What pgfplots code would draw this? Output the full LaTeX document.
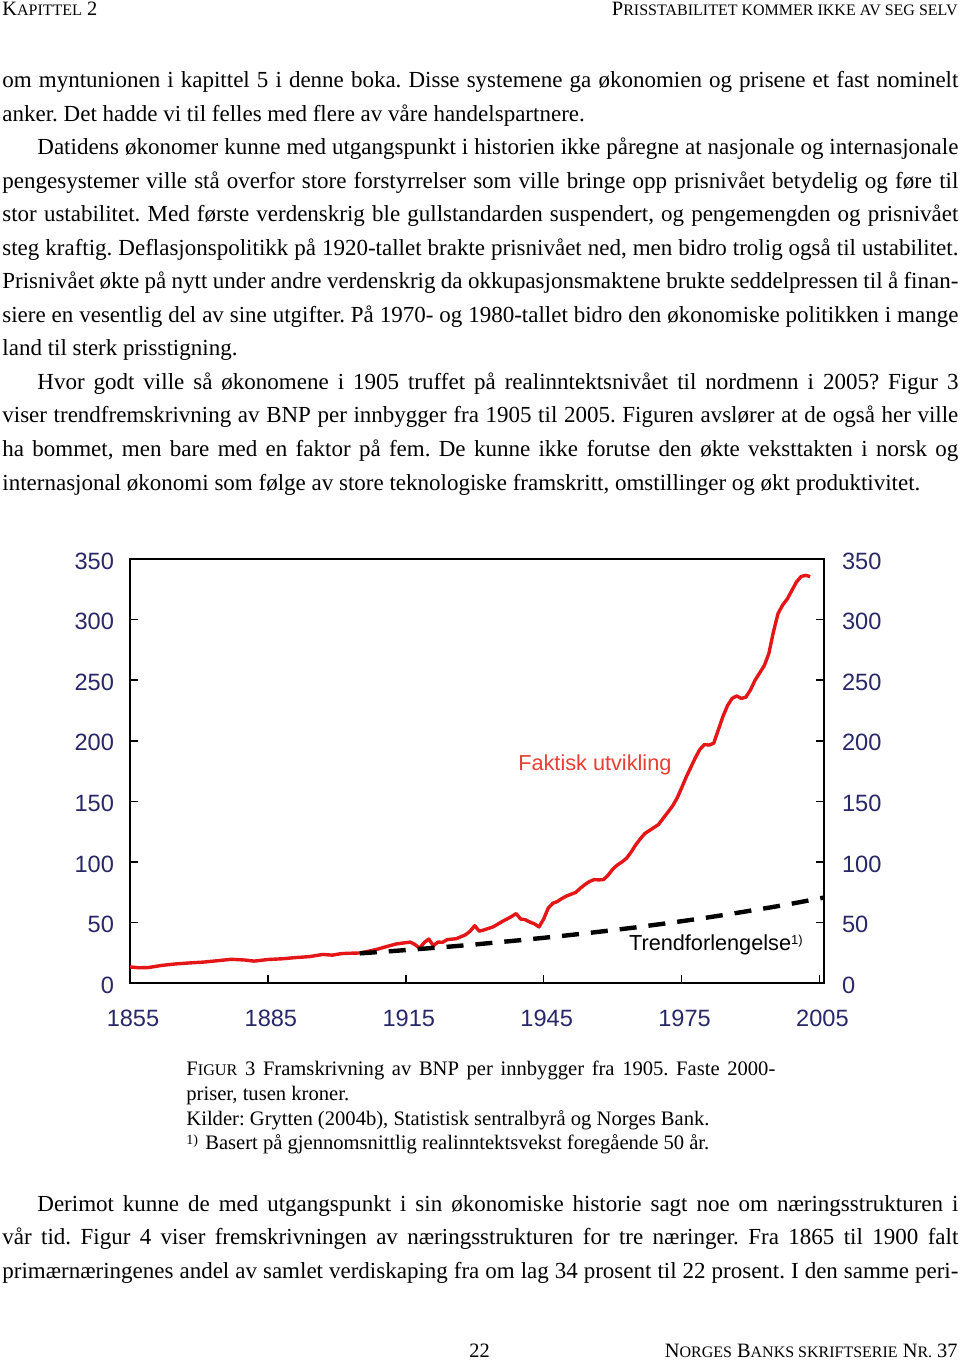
\documentclass[border=0pt]{standalone}
\usepackage{fontspec}
\setmainfont{Liberation Serif}
\newfontfamily\sansf{Liberation Sans}
\usepackage{pgfplots}
\pgfplotsset{compat=1.18}
\definecolor{lineRed}{RGB}{228,22,24}
\definecolor{labRed}{RGB}{232,62,52}
\definecolor{tickBlue}{RGB}{40,40,105}
\newlength\px \setlength\px{0.5pt}
\newcommand\BF{\fontsize{11.5}{13}\selectfont}
\newcommand\CF{\fontsize{10.3}{12}\selectfont}
\newcommand\Bg[1]{{\fontsize{10.2}{11}\selectfont #1}}
\newcommand\Sm[1]{{\fontsize{8.0}{11}\selectfont #1}}
\frenchspacing

\pgfplotstableread{
year val
1855 13.5
1857 12.8
1859 13.0
1862 14.8
1865 16.0
1868 16.8
1871 17.5
1874 18.6
1877 19.8
1880 19.2
1882 18.3
1885 19.6
1888 20.2
1891 21.2
1894 22.0
1897 23.8
1899 23.2
1901 24.5
1903 24.8
1905 25.0
1907 26.5
1909 28.3
1911 30.5
1913 32.5
1915 33.5
1916 34.0
1917 32.0
1918 29.0
1919 33.5
1920 36.5
1921 31.0
1922 34.0
1923 33.8
1924 36.0
1926 36.8
1928 40.0
1929 43.0
1930 47.5
1931 43.0
1932 44.0
1934 46.5
1936 51.0
1938 55.0
1939 57.5
1940 53.0
1941 52.5
1942 50.5
1943 49.0
1944 46.5
1945 53.0
1946 62.0
1947 66.0
1948 67.5
1949 70.0
1950 72.0
1952 75.0
1953 78.5
1954 81.5
1955 84.0
1956 85.5
1957 85.3
1958 85.5
1959 89.0
1960 94.0
1961 97.5
1962 100.0
1963 103.0
1964 108.0
1965 114.0
1966 119.0
1967 123.5
1968 126.0
1969 128.5
1970 131.0
1971 136.0
1972 141.0
1973 146.0
1974 152.5
1975 161.0
1976 170.0
1977 178.0
1978 186.0
1979 193.0
1980 197.0
1981 196.5
1982 198.0
1983 209.0
1984 220.0
1985 229.0
1986 235.0
1987 237.0
1988 235.0
1989 236.0
1990 242.0
1991 250.0
1992 256.0
1993 262.0
1994 272.0
1995 290.0
1996 305.0
1997 312.0
1998 317.0
1999 324.0
2000 331.0
2001 335.5
2002 336.5
2003 335.5
}\faktisk

\pgfplotstableread{
year val
1905 24.7
1910 26.0
1915 27.4
1920 28.9
1925 30.4
1930 32.0
1935 33.8
1940 35.6
1945 37.5
1950 39.5
1955 41.6
1960 43.8
1965 46.1
1970 48.6
1975 51.2
1980 53.9
1985 56.8
1990 59.9
1995 63.0
2000 66.4
2005 70.0
2006 70.7
}\trend

\begin{document}
\begin{tikzpicture}
\path[use as bounding box] (0,0) rectangle (480pt,680pt);
\fill[white] (0,0) rectangle (480pt,680pt);

\begin{axis}[
  at={(65pt,188.35pt)}, anchor=south west,
  scale only axis, width=347pt, height=212.15pt,
  xmin=1855, xmax=2006, ymin=0, ymax=350,
  xtick={1855,1885,1915,1945,1975,2005},
  ytick={0,50,...,350},
  xtick pos=left, ytick pos=both, yticklabel pos=left,
  tick align=inside, major tick length=4pt,
  axis line style={line width=0.9pt},
  tick style={black, line width=0.8pt},
  ticklabel style={font=\sansf\fontsize{11.8}{12}\selectfont, text=tickBlue},
  /pgf/number format/1000 sep={},
  /pgf/number format/assume math mode=true,
  yticklabel style={xshift=-4.5pt, yshift=-1pt},
  xticklabel style={yshift=-10pt, xshift=1.5pt},
]
\addplot[lineRed, line width=1.7pt, line join=round] table[x=year,y=val] {\faktisk};
\addplot[black, line width=2.2pt, dash pattern=on 8.5pt off 6pt] table[x=year,y=val] {\trend};
\node[anchor=base west, inner sep=0, text=labRed, font=\sansf\fontsize{10.85}{12}\selectfont] at (axis cs:1939.4,175.9) {Faktisk utvikling};
\node[anchor=base west, inner sep=0, font=\sansf\fontsize{10.85}{12}\selectfont] at (axis cs:1963.5,26.9) {Trendforlengelse\raisebox{0.55ex}{\fontsize{6.5}{7}\selectfont 1)}};
\end{axis}

\begin{axis}[
  at={(65pt,188.35pt)}, anchor=south west,
  scale only axis, width=347pt, height=212.15pt,
  xmin=1855, xmax=2006, ymin=0, ymax=350,
  hide x axis, axis y line*=right,
  ytick={0,50,...,350},
  tick align=inside, major tick length=4pt,
  axis line style={line width=0.9pt},
  tick style={black, line width=0.8pt},
  ticklabel style={font=\sansf\fontsize{11.8}{12}\selectfont, text=tickBlue},
  /pgf/number format/assume math mode=true,
  yticklabel style={xshift=5.5pt, yshift=-1pt},
]
\addplot[draw=none] coordinates {(1855,0)};
\end{axis}

\begin{scope}[shift={(0,680pt)}, x=0.5pt, y=-0.5pt]
% headers
\node[anchor=base west,inner sep=0] at (2,16) {\Bg{K}\Sm{APITTEL} \Bg{2}};
\node[anchor=base east,inner sep=0] at (958,16) {\Bg{P}\Sm{RISSTABILITET KOMMER IKKE AV SEG SELV}};
% body
\node[anchor=base west,inner sep=0] at (2,87.5) {\BF\makebox[956\px][s]{om myntunionen i kapittel 5 i denne boka. Disse systemene ga økonomien og prisene et fast nominelt}};
\node[anchor=base west,inner sep=0] at (2,121.05) {\BF anker. Det hadde vi til felles med flere av våre handelspartnere.};
\node[anchor=base west,inner sep=0] at (37,154.6) {\BF\makebox[921\px][s]{Datidens økonomer kunne med utgangspunkt i historien ikke påregne at nasjonale og internasjonale}};
\node[anchor=base west,inner sep=0] at (2,188.15) {\BF\makebox[956\px][s]{pengesystemer ville stå overfor store forstyrrelser som ville bringe opp prisnivået betydelig og føre til}};
\node[anchor=base west,inner sep=0] at (2,221.7) {\BF\makebox[956\px][s]{stor ustabilitet. Med første verdenskrig ble gullstandarden suspendert, og pengemengden og prisnivået}};
\node[anchor=base west,inner sep=0] at (2,255.25) {\BF\makebox[956\px][s]{steg kraftig. Deflasjonspolitikk på 1920-tallet brakte prisnivået ned, men bidro trolig også til ustabilitet.}};
\node[anchor=base west,inner sep=0] at (2,288.8) {\BF\makebox[956\px][s]{Prisnivået økte på nytt under andre verdenskrig da okkupasjonsmaktene brukte seddelpressen til å finan-}};
\node[anchor=base west,inner sep=0] at (2,322.35) {\BF\makebox[956\px][s]{siere en vesentlig del av sine utgifter. På 1970- og 1980-tallet bidro den økonomiske politikken i mange}};
\node[anchor=base west,inner sep=0] at (2,355.9) {\BF land til sterk prisstigning.};
\node[anchor=base west,inner sep=0] at (37,389.45) {\BF\makebox[921\px][s]{Hvor godt ville så økonomene i 1905 truffet på realinntektsnivået til nordmenn i 2005? Figur 3}};
\node[anchor=base west,inner sep=0] at (2,423) {\BF\makebox[956\px][s]{viser trendfremskrivning av BNP per innbygger fra 1905 til 2005. Figuren avslører at de også her ville}};
\node[anchor=base west,inner sep=0] at (2,456.55) {\BF\makebox[956\px][s]{ha bommet, men bare med en faktor på fem. De kunne ikke forutse den økte veksttakten i norsk og}};
\node[anchor=base west,inner sep=0] at (2,490.1) {\BF internasjonal økonomi som følge av store teknologiske framskritt, omstillinger og økt produktivitet.};
% caption
\node[anchor=base west,inner sep=0] at (186,1076) {\CF\makebox[589\px][s]{{\fontsize{10.3}{12}\selectfont F}{\fontsize{8.1}{12}\selectfont IGUR} 3 Framskrivning av BNP per innbygger fra 1905. Faste 2000-}};
\node[anchor=base west,inner sep=0] at (186,1100.7) {\CF priser, tusen kroner.};
\node[anchor=base west,inner sep=0] at (186,1125.3) {\CF Kilder: Grytten (2004b), Statistisk sentralbyrå og Norges Bank.};
\node[anchor=base west,inner sep=0] at (186,1150) {\CF\raisebox{0.6ex}{\fontsize{7}{7}\selectfont 1)}\hspace{0.35em}Basert på gjennomsnittlig realinntektsvekst foregående 50 år.};
% lower body
\node[anchor=base west,inner sep=0] at (37,1211.5) {\BF\makebox[921\px][s]{Derimot kunne de med utgangspunkt i sin økonomiske historie sagt noe om næringsstrukturen i}};
\node[anchor=base west,inner sep=0] at (2,1245) {\BF\makebox[956\px][s]{vår tid. Figur 4 viser fremskrivningen av næringsstrukturen for tre næringer. Fra 1865 til 1900 falt}};
\node[anchor=base west,inner sep=0] at (2,1278.5) {\BF\makebox[956\px][s]{primærnæringenes andel av samlet verdiskaping fra om lag 34 prosent til 22 prosent. I den samme peri-}};
% footer
\node[anchor=base west,inner sep=0] at (469,1357.3) {\Bg{22}};
\node[anchor=base east,inner sep=0] at (958,1357.3) {\Bg{N}\Sm{ORGES} \Bg{B}\Sm{ANKS SKRIFTSERIE} \Bg{N}\Sm{R.} \Bg{37}};
\end{scope}
\end{tikzpicture}
\end{document}
